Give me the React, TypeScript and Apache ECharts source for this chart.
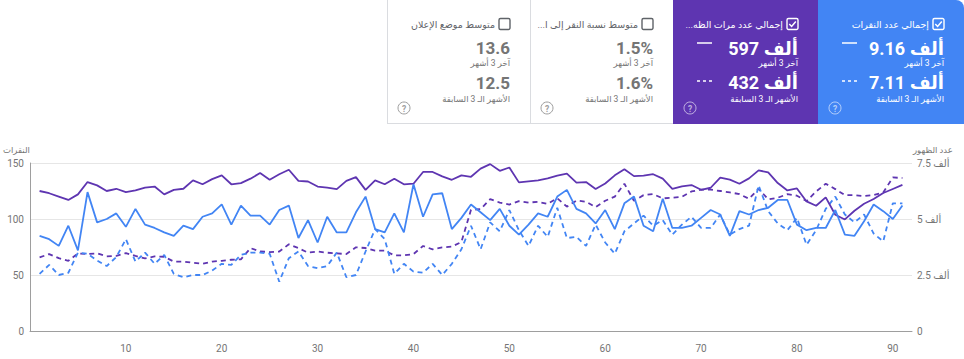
import React, { useEffect, useRef } from "react";
import * as echarts from "echarts";

// ---- Chart data (days 1..91) ----
const clicks = [
  85, 82, 76, 94, 72, 124, 97, 100, 105, 93,
  109, 95, 92, 88, 85, 94, 91, 102, 105, 113,
  95, 112, 103, 103, 95, 108, 112, 83, 99, 79,
  102, 88, 88, 106, 120, 91, 88, 105, 88, 131,
  102, 122, 123, 91, 101, 113, 106, 99, 109, 94,
  86, 95, 105, 102, 120, 126, 109, 105, 96, 108,
  91, 114, 120, 94, 89, 118, 92, 92, 94, 101,
  108, 104, 85, 107, 104, 108, 110, 117, 117, 95,
  90, 92, 92, 108, 86, 85, 98, 113, 107, 100, 112,
];
const prevClicks = [
  51, 59, 50, 52, 70, 69, 63, 58, 66, 82,
  62, 70, 60, 68, 51, 48, 50, 50, 54, 60,
  59, 68, 70, 70, 69, 44, 65, 71, 58, 56,
  58, 70, 48, 50, 71, 91, 82, 51, 60, 53,
  52, 60, 50, 60, 73, 94, 73, 97, 89, 108,
  90, 76, 94, 84, 110, 83, 84, 76, 95, 79,
  69, 89, 96, 103, 94, 99, 86, 95, 102, 92,
  92, 104, 86, 91, 94, 130, 107, 96, 90, 101,
  77, 90, 109, 120, 104, 97, 104, 87, 80, 114, 114,
];
const impressions = [
  6250, 6150, 6000, 5850, 6100, 6650, 6500, 6250, 6350, 6200,
  6275, 6400, 6450, 6100, 6300, 6350, 6725, 6550, 6780, 6950,
  6550, 6600, 6800, 7050, 6750, 7000, 7200, 6700, 6675, 6450,
  6400, 6335, 6700, 6870, 6300, 6725, 6550, 6800, 6550, 6575,
  7100, 7100, 6900, 6750, 6950, 6885, 7250, 7450, 7150, 7300,
  6635, 6680, 6725, 6810, 6935, 7025, 6625, 6650, 6340, 6585,
  6950, 7225, 6915, 6935, 7000, 6800, 6350, 6460, 6515, 6305,
  6395, 6845, 6755, 6575, 6815, 7170, 7080, 6605, 6275, 6365,
  5785, 5590, 5965, 5190, 4980, 5370, 5680, 5890, 6160, 6340, 6520,
];
const prevImpressions = [
  3285, 3435, 3250, 3135, 3465, 3435, 3465, 3330, 3350, 3480,
  3350, 3240, 3330, 3315, 3100, 3100, 3050, 3000, 3100, 3135,
  3180, 3200, 3700, 3550, 3525, 3550, 3870, 3700, 3500, 3550,
  3495, 3465, 3435, 3735, 3705, 3585, 3585, 3375, 3375, 3435,
  3795, 3645, 3735, 3765, 3975, 5410, 5440, 5885, 5735, 5645,
  5795, 5735, 5765, 5675, 5925, 5550, 5825, 5770, 5530, 5815,
  6000, 6575, 5815, 6065, 6110, 5920, 5950, 5990, 6230, 6310,
  6310, 6250, 6190, 6110, 5905, 6350, 5875, 5950, 6110, 6040,
  5800, 6230, 6575, 6335, 6065, 6065, 6025, 6065, 6185, 6855, 6830,
];

// ---- Scorecard texts (right to left) ----
const cardTitles = [
  "إجمالي عدد النقرات",
  "إجمالي عدد مرات الظه...\u200F",
  "متوسط نسبة النقر إلى ا...\u200F",
  "متوسط موضع الإعلان",
];
const cardCurrent = ["9.16 ألف", "597 ألف", "1.5%", "13.6"];
const cardPrevious = ["7.11 ألف", "432 ألف", "1.6%", "12.5"];
const cardChecked = [true, true, false, false];
const currentLabel = "آخر 3 أشهر";
const previousLabel = "الأشهر الـ 3 السابقة";
const leftAxisTitle = "النقرات";
const rightAxisTitle = "عدد الظهور";
const thousandSuffix = "ألف";

// layout (not data)
const cardBoxes = [
  { x: 818, w: 146, bg: "#4285f4" },
  { x: 673, w: 145, bg: "#5e35b1" },
  { x: 530, w: 143, bg: "#ffffff" },
  { x: 387, w: 143, bg: "#ffffff" },
];

const FONT = 'Roboto, "Noto Sans", "DejaVu Sans", sans-serif';

function txt(x: number, y: number, text: string, size: number, color: string, weight = "normal", align = "right") {
  return {
    type: "text",
    x,
    y,
    silent: true,
    style: {
      text,
      fill: color,
      font: `${weight} ${size}px ${FONT}`,
      textAlign: align,
      textVerticalAlign: "middle",
      align,
      verticalAlign: "middle",
    },
  };
}

function buildGraphics() {
  const els: any[] = [];
  cardBoxes.forEach((box, k) => {
    const colored = cardChecked[k];
    const right = box.x + box.w;
    els.push({
      type: "rect",
      shape: { x: box.x, y: 0, width: box.w, height: 124, r: k === 0 ? [0, 8, 0, 0] : 0 },
      style: { fill: box.bg },
      silent: true,
    });
    const main = colored ? "#ffffff" : "#757575";
    const sub = colored ? "#ffffff" : "#757575";
    const cbL = right - 31;
    els.push({
      type: "rect",
      shape: { x: cbL, y: 18.5, width: 11, height: 11, r: 1.5 },
      style: { fill: "none", stroke: colored ? "#ffffff" : "#5f6368", lineWidth: 1.4 },
      silent: true,
    });
    if (colored) {
      els.push({
        type: "polyline",
        shape: { points: [[cbL + 2.3, 24], [cbL + 4.6, 26.4], [cbL + 8.8, 21.4]] },
        style: { stroke: "#ffffff", lineWidth: 1.5, fill: "none" },
        silent: true,
      });
    }
    els.push(txt(cbL - 4, 24.5, cardTitles[k], 9.5, colored ? "#ffffff" : "#5f6368"));
    els.push(txt(right - 20, 48, cardCurrent[k], colored ? 18 : 17, main, "bold"));
    els.push(txt(right - 20, 62.5, currentLabel, 8.5, sub));
    els.push(txt(right - 20, 82.5, cardPrevious[k], colored ? 18 : 17, main, "bold"));
    els.push(txt(right - 20, 98.5, previousLabel, 8.5, sub));
    if (colored) {
      els.push({
        type: "line",
        shape: { x1: box.x + 24, y1: 43, x2: box.x + 39, y2: 43 },
        style: { stroke: "#ffffff", lineWidth: 1.5 },
        silent: true,
      });
      els.push({
        type: "line",
        shape: { x1: box.x + 24, y1: 81, x2: box.x + 39, y2: 81 },
        style: { stroke: "#ffffff", lineWidth: 1.5, lineDash: [3, 3] },
        silent: true,
      });
    }
    const helpColor = colored ? "rgba(255,255,255,0.6)" : "#9e9e9e";
    els.push({
      type: "circle",
      shape: { cx: box.x + 17, cy: 108, r: 6 },
      style: { fill: "none", stroke: helpColor, lineWidth: 1 },
      silent: true,
    });
    els.push(txt(box.x + 17, 108.5, "?", 8.5, helpColor, "bold", "center"));
  });
  // white card borders
  const border = "#dadce0";
  els.push({ type: "line", shape: { x1: 387.5, y1: 0, x2: 387.5, y2: 123.5 }, style: { stroke: border, lineWidth: 1 }, silent: true });
  els.push({ type: "line", shape: { x1: 387, y1: 123.5, x2: 673, y2: 123.5 }, style: { stroke: border, lineWidth: 1 }, silent: true });
  els.push({ type: "line", shape: { x1: 530.5, y1: 0, x2: 530.5, y2: 123.5 }, style: { stroke: border, lineWidth: 1 }, silent: true });
  // axis titles
  els.push(txt(3, 150, leftAxisTitle, 8.5, "#757575", "normal", "left"));
  els.push(txt(913, 150, rightAxisTitle, 8.5, "#757575", "normal", "left"));
  return els;
}

export default function App() {
  const ref = useRef<HTMLDivElement>(null);
  useEffect(() => {
    if (!ref.current) return;
    const chart = echarts.init(ref.current, undefined, { renderer: "svg" });
    const pairs = (arr: number[]) => arr.map((v, k) => [k + 1, v]);
    const blue = "#4285f4";
    const purple = "#5e35b1";
    chart.setOption({
      animation: false,
      backgroundColor: "#ffffff",
      textStyle: { fontFamily: FONT },
      grid: { left: 30, right: 52, top: 163, bottom: 28, containLabel: false },
      xAxis: {
        type: "value",
        min: 0,
        max: 92,
        interval: 10,
        axisLine: { show: true, lineStyle: { color: "#9e9e9e", width: 1 } },
        axisTick: { show: false },
        splitLine: { show: false },
        axisLabel: {
          color: "#757575",
          fontSize: 10,
          margin: 12,
          showMinLabel: false,
          showMaxLabel: false,
          formatter: (v: number) => (v % 10 === 0 && v > 0 ? String(v) : ""),
        },
      },
      yAxis: [
        {
          type: "value",
          min: 0,
          max: 150,
          interval: 50,
          position: "left",
          axisLine: { show: true, lineStyle: { color: "#9e9e9e", width: 1 } },
          axisTick: { show: false },
          splitLine: { show: true, lineStyle: { color: "#e6e6e6", width: 1 } },
          axisLabel: { color: "#757575", fontSize: 10, margin: 6 },
        },
        {
          type: "value",
          min: 0,
          max: 7500,
          interval: 2500,
          position: "right",
          axisLine: { show: false },
          axisTick: { show: false },
          splitLine: { show: false },
          axisLabel: {
            color: "#757575",
            fontSize: 10,
            margin: 5,
            formatter: (v: number) => (v === 0 ? "0" : `${v / 1000} ${thousandSuffix}`),
          },
        },
      ],
      series: [
        {
          type: "line",
          data: pairs(prevImpressions),
          yAxisIndex: 1,
          symbol: "none",
          lineStyle: { color: purple, width: 1.8, type: [5, 4] },
        },
        {
          type: "line",
          data: pairs(prevClicks),
          yAxisIndex: 0,
          symbol: "none",
          lineStyle: { color: blue, width: 1.8, type: [5, 4] },
        },
        {
          type: "line",
          data: pairs(impressions),
          yAxisIndex: 1,
          symbol: "none",
          lineStyle: { color: purple, width: 1.8 },
        },
        {
          type: "line",
          data: pairs(clicks),
          yAxisIndex: 0,
          symbol: "none",
          lineStyle: { color: blue, width: 1.8 },
        },
      ],
      graphic: { elements: buildGraphics() },
    });
    return () => chart.dispose();
  }, []);
  return (
    <div
      ref={ref}
      style={{ position: "absolute", left: 0, top: 0, width: 964, height: 359, background: "#fff" }}
    />
  );
}
